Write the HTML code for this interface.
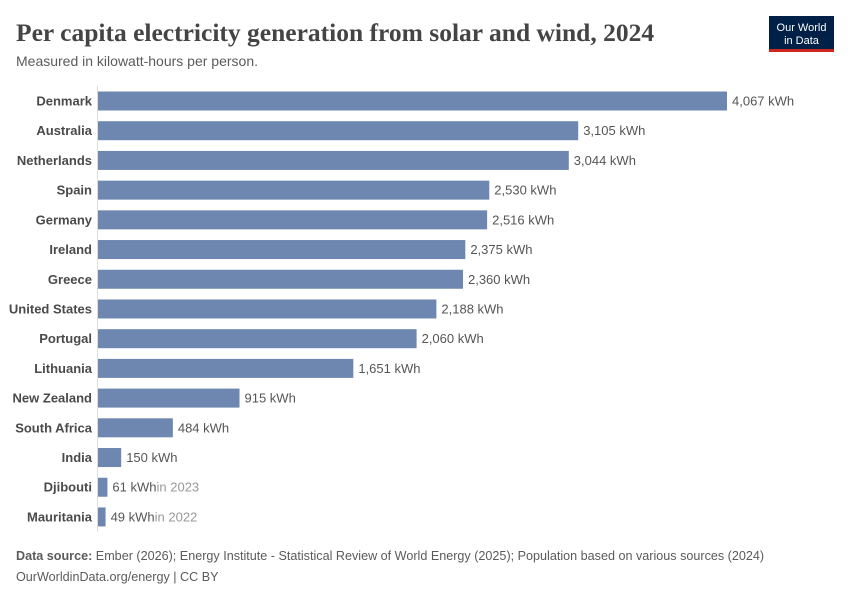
<!DOCTYPE html>
<html><head><meta charset="utf-8"><style>
body{margin:0;background:#fff;}
svg text{font-family:"Liberation Sans",sans-serif;}
</style></head><body>
<svg id="chart" width="850" height="600" xmlns="http://www.w3.org/2000/svg">
<text x="16" y="41" font-size="25.5" font-weight="bold" fill="#444" style="font-family:'Liberation Serif',serif">Per capita electricity generation from solar and wind, 2024</text>
<text x="16" y="66" font-size="14" fill="#5b5b5b">Measured in kilowatt-hours per person.</text>
<g>
<rect x="769" y="16" width="65" height="34" fill="#002147"/>
<rect x="769" y="49" width="65" height="3" fill="#ce261e"/>
<text x="801.5" y="31" font-size="11" fill="#fff" text-anchor="middle">Our World</text>
<text x="801.5" y="44" font-size="11" fill="#fff" text-anchor="middle">in Data</text>
</g>
<line x1="97.5" y1="86" x2="97.5" y2="532" stroke="#ddd" stroke-width="1"/>
<g id="bars"></g>
<text x="16" y="560" font-size="12.6" fill="#5b5b5b"><tspan font-weight="bold">Data source:</tspan> Ember (2026); Energy Institute - Statistical Review of World Energy (2025); Population based on various sources (2024)</text>
<text x="16" y="581" font-size="12.6" fill="#5b5b5b">OurWorldinData.org/energy | CC BY</text>
</svg>
<script>
const countries=["Denmark","Australia","Netherlands","Spain","Germany","Ireland","Greece","United States","Portugal","Lithuania","New Zealand","South Africa","India","Djibouti","Mauritania"];
const values=[4067,3105,3044,2530,2516,2375,2360,2188,2060,1651,915,484,150,61,49];
const notes=["","","","","","","","","","","","","","in 2023","in 2022"];
const x0=98,x1=727,vmax=4067,y0=101,step=29.71,bh=19;
const xs=v=>x0+(v/vmax)*(x1-x0);
const g=document.getElementById('bars');
const NS="http://www.w3.org/2000/svg";
countries.forEach((c,i)=>{
  const cy=y0+i*step;
  const r=document.createElementNS(NS,'rect');
  r.setAttribute('x',x0);r.setAttribute('y',cy-bh/2);
  r.setAttribute('width',Math.max(1,xs(values[i])-x0));r.setAttribute('height',bh);
  r.setAttribute('fill','#6d87b1');
  
  
  g.appendChild(r);
  const l=document.createElementNS(NS,'text');
  l.setAttribute('x',92);l.setAttribute('y',cy+4.5);l.setAttribute('text-anchor','end');
  l.setAttribute('font-size','13');l.setAttribute('font-weight','bold');l.setAttribute('fill','#4a4a4a');
  l.textContent=c;
  
  
  g.appendChild(l);
  const v=document.createElementNS(NS,'text');
  v.setAttribute('x',xs(values[i])+5);v.setAttribute('y',cy+4.5);
  v.setAttribute('font-size','13');v.setAttribute('fill','#555');
  v.textContent=values[i].toLocaleString('en-US')+' kWh';
  if(notes[i]){const t=document.createElementNS(NS,'tspan');t.setAttribute('fill','#999');t.textContent=notes[i];v.appendChild(t);}
  
  
  g.appendChild(v);
});
</script>
</body></html>
